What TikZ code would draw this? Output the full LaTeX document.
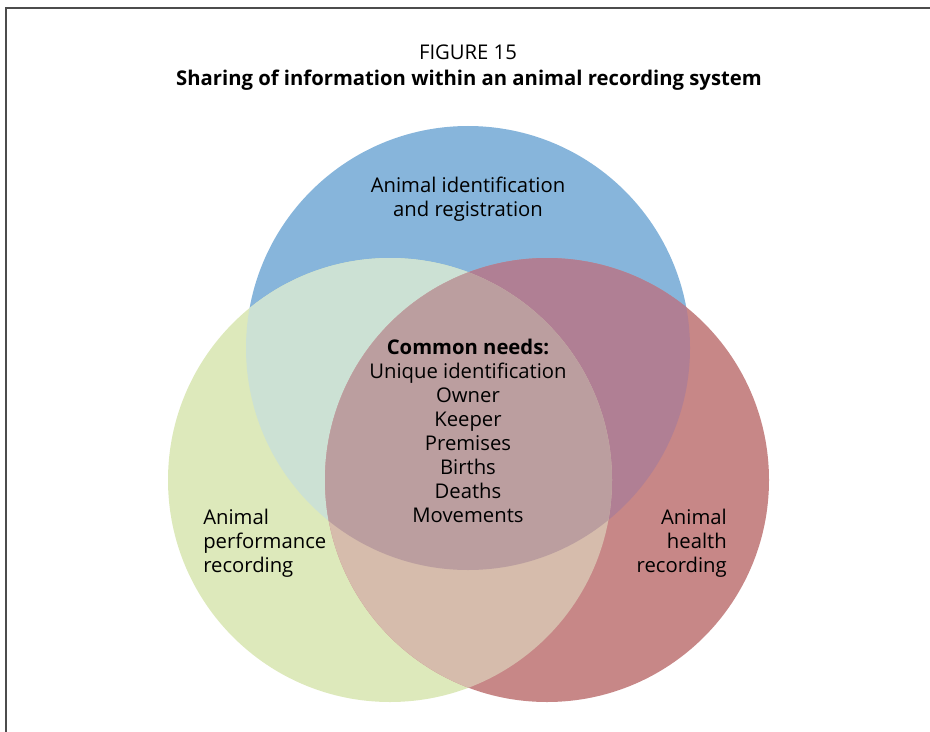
\documentclass[tikz,border=0pt]{standalone}
\usepackage{fontspec}
\setmainfont{Open Sans}
\definecolor{idblue}{HTML}{87B5DB}
\definecolor{perfgreen}{HTML}{DDE9BB}
\definecolor{healthred}{HTML}{C78787}
\definecolor{bluegreen}{HTML}{CCE1D4}
\definecolor{bluered}{HTML}{B07F94}
\definecolor{greenred}{HTML}{D6BCAC}
\definecolor{common}{HTML}{BB9E9F}
\tikzset{
  txt/.style={font=\fontsize{15.2}{18}\selectfont, align=center, inner sep=0pt},
}
\def\circB{(468,348) circle [radius=166.5pt]}
\def\circG{(390,480) circle [radius=166.5pt]}
\def\circR{(547,480) circle [radius=166.5pt]}
\begin{document}
\begin{tikzpicture}[x=0.75pt,y=-0.75pt]
\useasboundingbox (0,0) rectangle (930,731);

% frame, cut off by the page
\draw [black!70, line width=1.3pt] (6,760)--(6,8)--(960,8);

% title
\node [txt] (fig) at (468,52) {FIGURE 15};
\node [txt, font=\fontsize{15.2}{18}\selectfont\bfseries] (title) at (469,80)
  {Sharing of information within an animal recording system};

% the three circles
\fill [idblue] \circB;
\fill [perfgreen] \circG;
\fill [healthred] \circR;

% overlaps
\begin{scope}
  \clip \circB;
  \fill [bluegreen] \circG;
  \fill [bluered] \circR;
\end{scope}
\begin{scope}
  \clip \circG;
  \fill [greenred] \circR;
  \clip \circB;
  \fill [common] \circR;
\end{scope}

% labels
\node [txt] (ident) at (468,199) {Animal identification\\and registration};
\node [txt] (needs) at (468,431) {\textbf{Common needs:}\\Unique identification\\Owner\\Keeper\\Premises\\Births\\Deaths\\Movements};
\node [txt, align=left, anchor=west] (perf) at (203,543) {Animal\\performance\\recording};
\node [txt, align=right, anchor=east] (health) at (727,543) {Animal\\health\\recording};

\end{tikzpicture}
\end{document}
